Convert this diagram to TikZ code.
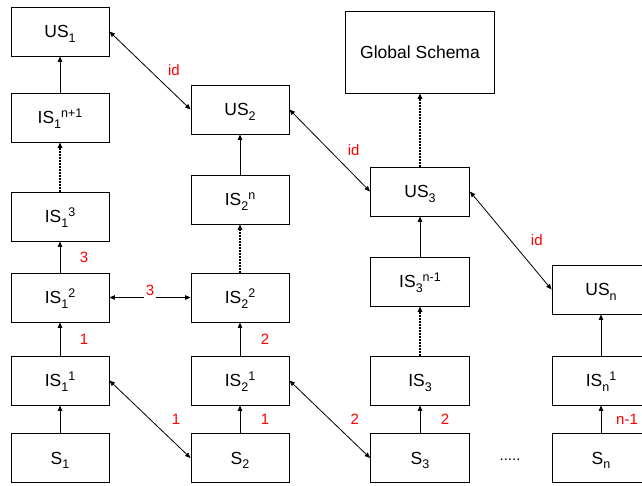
\documentclass[tikz,border=0pt]{standalone}
\usepackage{fontspec}
\setmainfont{Liberation Sans}
\usetikzlibrary{arrows.meta}
\newcommand\lo[1]{\raisebox{-4.5pt}{\fontsize{12.5}{12.5}\selectfont #1}}
\newcommand\hi[1]{\raisebox{6.5pt}{\fontsize{12.5}{12.5}\selectfont #1}}
\begin{document}
\begin{tikzpicture}[x=1pt,y=-1pt,
  box/.style={draw, line width=0.9pt, minimum width=98pt, minimum height=49pt, inner sep=0pt, text height=12.5pt, text depth=0pt, font=\fontsize{17.5}{20}\selectfont},
  conn/.style={line width=0.8pt, -{Triangle[length=5.5pt,width=4.5pt]}},
  bi/.style={line width=0.8pt, {Triangle[length=5.5pt,width=4.5pt]}-{Triangle[length=5.5pt,width=4.5pt]}},
  dots/.style={conn, line width=1.5pt, dash pattern=on 1.5pt off 1.5pt},
  lab/.style={text=red, font=\fontsize{15}{15}\selectfont, inner sep=0pt}
]
\clip (0,0) rectangle (642,485);
% column 1
\node[box] (US1) at (60,31.5) {US\lo{1}};
\node[box] (IS1n) at (60,117.5) {IS\lo{1}\hi{n+1}};
\node[box] (IS13) at (60,216.5) {IS\lo{1}\hi{3}};
\node[box] (IS12) at (60,297.5) {IS\lo{1}\hi{2}};
\node[box] (IS11) at (60,380.5) {IS\lo{1}\hi{1}};
\node[box] (S1) at (60,458) {S\lo{1}};
% column 2
\node[box] (US2) at (240,109.5) {US\lo{2}};
\node[box] (IS2n) at (240,199.5) {IS\lo{2}\hi{n}};
\node[box] (IS22) at (240,297.5) {IS\lo{2}\hi{2}};
\node[box] (IS21) at (240,380.5) {IS\lo{2}\hi{1}};
\node[box] (S2) at (240,458) {S\lo{2}};
% column 3
\node[box, minimum width=149pt, minimum height=82pt] (GS) at (420,52) {Global Schema};
\node[box, minimum width=99pt] (US3) at (420,191.5) {US\lo{3}};
\node[box, minimum width=99pt] (IS3n) at (420,281.5) {IS\lo{3}\hi{n-1}};
\node[box, minimum width=99pt] (IS3) at (420,380.5) {IS\lo{3}};
\node[box, minimum width=99pt] (S3) at (420,458) {S\lo{3}};
% column 4
\node[box] (USn) at (601,289.5) {US\lo{n}};
\node[box] (ISn1) at (601,380.5) {IS\lo{n}\hi{1}};
\node[box] (Sn) at (601,458) {S\lo{n}};
\node[font=\fontsize{15}{15}\selectfont, inner sep=0pt] (ell) at (510,460) {.....};
% column 1 connectors
\draw[conn] (S1) -- (IS11);
\draw[conn] (IS11) -- (IS12) node[lab, midway, xshift=24pt] {1};
\draw[conn] (IS12) -- (IS13) node[lab, midway, xshift=24pt] {3};
\draw[dots] (IS13) -- (IS1n);
\draw[conn] (IS1n) -- (US1);
% column 2 connectors
\draw[conn] (S2) -- (IS21) node[lab, midway, xshift=25pt] {1};
\draw[conn] (IS21) -- (IS22) node[lab, midway, xshift=25pt] {2};
\draw[dots] (IS22) -- (IS2n);
\draw[conn] (IS2n) -- (US2);
% column 3 connectors
\draw[conn] (S3) -- (IS3) node[lab, midway, xshift=25pt] {2};
\draw[dots] (IS3) -- (IS3n);
\draw[conn] (IS3n) -- (US3);
\draw[dots] (US3) -- (GS);
% column 4 connectors
\draw[conn] (Sn) -- (ISn1) node[lab, midway, xshift=26pt] {n-1};
\draw[conn] (ISn1) -- (USn);
% cross connectors
\draw[bi] (US1.east) -- (US2.west) node[lab, midway, xshift=24pt] {id};
\draw[bi] (US2.east) -- (US3.west) node[lab, midway, xshift=24pt] {id};
\draw[bi] (US3.east) -- (USn.west) node[lab, midway, xshift=26pt] {id};
\draw[bi] (IS12) -- (IS22) node[lab, midway, fill=white, inner sep=2pt, yshift=7pt] {3};
\draw[bi] (IS11.east) -- (S2.west) node[lab, midway, xshift=26pt] {1};
\draw[bi] (IS21.east) -- (S3.west) node[lab, midway, xshift=25pt] {2};
\end{tikzpicture}
\end{document}
